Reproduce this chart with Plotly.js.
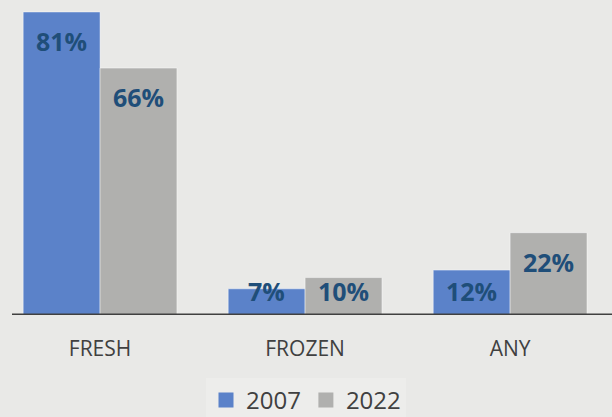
<!DOCTYPE html>
<html>
<head>
<meta charset="utf-8">
<script src="https://cdn.plot.ly/plotly-3.0.1.min.js"></script>
<style>html,body{margin:0;padding:0;background:#e9e9e7;}#chart{width:612px;height:417px;}</style>
</head>
<body>
<div id="chart"></div>
<script>
const categories = ["FRESH", "FROZEN", "ANY"];
const series2007 = [81, 7, 12];
const series2022 = [66, 10, 22];
const seriesNames = ["2007", "2022"];
const labels2007 = ["81%", "7%", "12%"];
const labels2022 = ["66%", "10%", "22%"];
const colors = ["#5b82c9", "#b0b0ae"];

const bargap = 0.25;
const yMax = 84.2;
const plotTop = 0, plotBottom = 102;
const plotH = 417 - plotTop - plotBottom;
const pxPerUnit = plotH / yMax;
const labelFont = {family: "Open Sans", size: 25, color: "#1f4e79", weight: "bold"};

function makeAnnots(vals, labs, offset) {
  return vals.map((v, i) => {
    const topPx = v * pxPerUnit;
    const centerPx = Math.max(topPx - 29, 24);
    return {
      x: i + offset, y: 0, xref: "x", yref: "y",
      yshift: centerPx, text: "<b>" + labs[i] + "</b>",
      showarrow: false, font: labelFont, xanchor: "center", yanchor: "middle"
    };
  });
}
const off = (1 - bargap) / 4;
const annotations = makeAnnots(series2007, labels2007, -off).concat(makeAnnots(series2022, labels2022, off));

const traces = [
  {type: "bar", name: seriesNames[0], x: categories, y: series2007, showlegend: false,
   marker: {color: colors[0], line: {color: "rgba(255,255,255,0.45)", width: 1}}},
  {type: "bar", name: seriesNames[1], x: categories, y: series2022, showlegend: false,
   marker: {color: colors[1], line: {color: "rgba(255,255,255,0.45)", width: 1}}},
  {type: "scatter", mode: "markers", name: seriesNames[0], x: [null], y: [null],
   marker: {symbol: "square", size: 15, color: colors[0]}},
  {type: "scatter", mode: "markers", name: seriesNames[1], x: [null], y: [null],
   marker: {symbol: "square", size: 15, color: colors[1]}}
];

const layout = {
  width: 612, height: 417,
  paper_bgcolor: "#e9e9e7", plot_bgcolor: "#e9e9e7",
  margin: {l: 0, r: 0, t: plotTop, b: plotBottom},
  barmode: "group", bargap: bargap, bargroupgap: 0,
  xaxis: {type: "category", range: [-0.488, 2.497], showline: false, showgrid: false, zeroline: false,
          ticks: "", ticklabelstandoff: 19,
          tickfont: {family: "Open Sans", size: 21, color: "#404040"}},
  yaxis: {range: [0, yMax], visible: false},
  showlegend: true,
  legend: {orientation: "h", x: 0.5, xanchor: "center", y: 0.04, yanchor: "middle", yref: "container",
           bgcolor: "#ededeb", font: {family: "Open Sans", size: 24, color: "#404040"}, itemwidth: 30,
           traceorder: "normal"},
  shapes: [{type: "line", xref: "paper", yref: "y", x0: 12/612, x1: 1, y0: 0, y1: 0,
            line: {color: "#404040", width: 3}, layer: "above"}],
  annotations: annotations
};

Plotly.newPlot("chart", traces, layout, {displayModeBar: false, staticPlot: true});
</script>
</body>
</html>
